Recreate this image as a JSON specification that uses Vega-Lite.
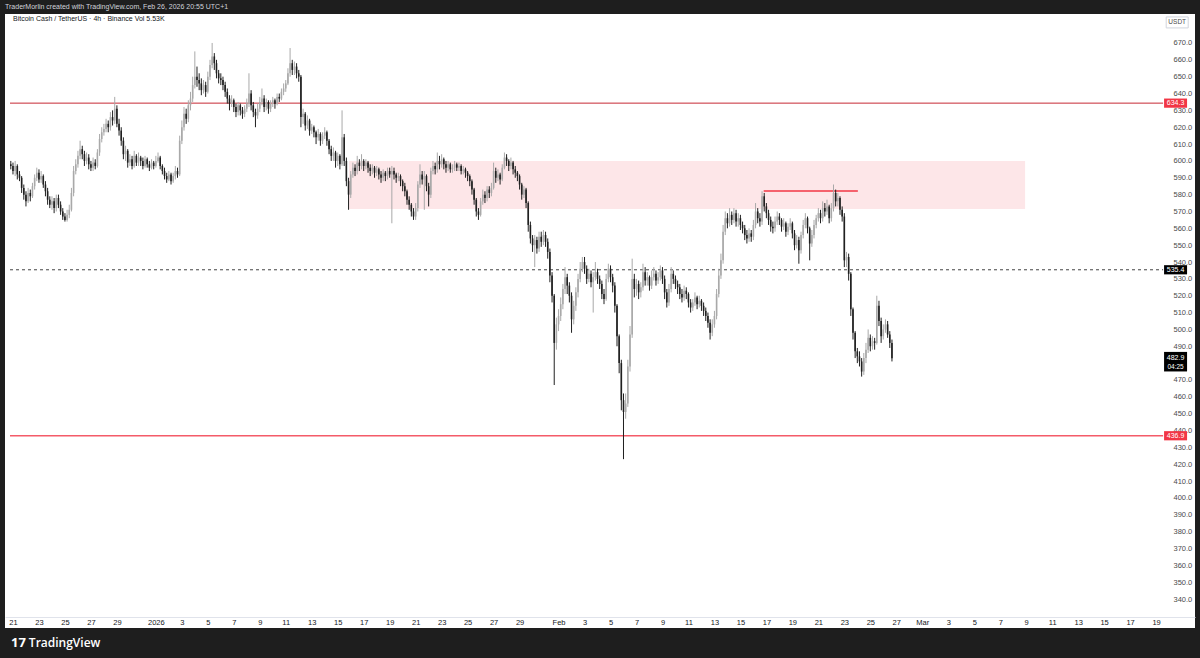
{
"$schema":"https://vega.github.io/schema/vega-lite/v6.json",
"width":1190,"height":614,
"autosize":{"type":"none"},
"padding":{"left":5,"top":14,"right":5,"bottom":30},
"background":"#1e1e1e",
"title":{"text":"TraderMorlin created with TradingView.com, Feb 26, 2026 20:55 UTC+1","anchor":"start","frame":"group","fontSize":7,"fontWeight":"normal","color":"#d1d4dc","offset":4,"font":"Liberation Sans"},
"config":{"view":{"stroke":null,"fill":"#ffffff"},"font":"Liberation Sans","axis":{"labelOverlap":false}},
"datasets":{"candles":[
{"t":"2025-12-20T20:00","o":598,"h":600,"l":595,"c":597},
{"t":"2025-12-21T00:00","o":597,"h":599,"l":592,"c":594},{"t":"2025-12-21T04:00","o":594,"h":600,"l":591,"c":597},{"t":"2025-12-21T08:00","o":597,"h":598,"l":589,"c":592},{"t":"2025-12-21T12:00","o":592,"h":594,"l":588,"c":590},{"t":"2025-12-21T16:00","o":590,"h":591,"l":581,"c":584},{"t":"2025-12-21T20:00","o":584,"h":586,"l":577,"c":580},
{"t":"2025-12-22T00:00","o":580,"h":582,"l":573,"c":576},{"t":"2025-12-22T04:00","o":576,"h":584,"l":575,"c":581},{"t":"2025-12-22T08:00","o":581,"h":583,"l":576,"c":579},{"t":"2025-12-22T12:00","o":579,"h":587,"l":578,"c":585},{"t":"2025-12-22T16:00","o":585,"h":592,"l":583,"c":590},{"t":"2025-12-22T20:00","o":590,"h":596,"l":588,"c":593},
{"t":"2025-12-23T00:00","o":593,"h":595,"l":587,"c":589},{"t":"2025-12-23T04:00","o":589,"h":594,"l":587,"c":591},{"t":"2025-12-23T08:00","o":591,"h":592,"l":584,"c":586},{"t":"2025-12-23T12:00","o":586,"h":588,"l":579,"c":582},{"t":"2025-12-23T16:00","o":582,"h":584,"l":574,"c":577},{"t":"2025-12-23T20:00","o":577,"h":579,"l":572,"c":574},
{"t":"2025-12-24T00:00","o":574,"h":579,"l":571,"c":576},{"t":"2025-12-24T04:00","o":576,"h":578,"l":569,"c":572},{"t":"2025-12-24T08:00","o":572,"h":580,"l":570,"c":578},{"t":"2025-12-24T12:00","o":578,"h":580,"l":572,"c":574},{"t":"2025-12-24T16:00","o":574,"h":576,"l":568,"c":570},{"t":"2025-12-24T20:00","o":570,"h":572,"l":565,"c":567},
{"t":"2025-12-25T00:00","o":567,"h":569,"l":564,"c":565},{"t":"2025-12-25T04:00","o":565,"h":571,"l":564,"c":568},{"t":"2025-12-25T08:00","o":568,"h":574,"l":566,"c":571},{"t":"2025-12-25T12:00","o":571,"h":584,"l":570,"c":581},{"t":"2025-12-25T16:00","o":581,"h":597,"l":579,"c":594},{"t":"2025-12-25T20:00","o":594,"h":601,"l":592,"c":598},
{"t":"2025-12-26T00:00","o":598,"h":606,"l":596,"c":603},{"t":"2025-12-26T04:00","o":603,"h":612,"l":601,"c":607},{"t":"2025-12-26T08:00","o":607,"h":609,"l":601,"c":604},{"t":"2025-12-26T12:00","o":604,"h":606,"l":597,"c":600},{"t":"2025-12-26T16:00","o":600,"h":605,"l":598,"c":602},{"t":"2025-12-26T20:00","o":602,"h":604,"l":595,"c":598},
{"t":"2025-12-27T00:00","o":598,"h":600,"l":594,"c":596},{"t":"2025-12-27T04:00","o":596,"h":602,"l":594,"c":599},{"t":"2025-12-27T08:00","o":599,"h":601,"l":595,"c":597},{"t":"2025-12-27T12:00","o":597,"h":607,"l":596,"c":605},{"t":"2025-12-27T16:00","o":605,"h":616,"l":603,"c":613},{"t":"2025-12-27T20:00","o":613,"h":620,"l":611,"c":617},
{"t":"2025-12-28T00:00","o":617,"h":622,"l":615,"c":619},{"t":"2025-12-28T04:00","o":619,"h":625,"l":617,"c":622},{"t":"2025-12-28T08:00","o":622,"h":624,"l":617,"c":620},{"t":"2025-12-28T12:00","o":620,"h":629,"l":618,"c":626},{"t":"2025-12-28T16:00","o":626,"h":630,"l":621,"c":624},{"t":"2025-12-28T20:00","o":624,"h":638,"l":622,"c":631},
{"t":"2025-12-29T00:00","o":631,"h":633,"l":620,"c":622},{"t":"2025-12-29T04:00","o":622,"h":625,"l":615,"c":618},{"t":"2025-12-29T08:00","o":618,"h":620,"l":609,"c":612},{"t":"2025-12-29T12:00","o":612,"h":614,"l":601,"c":604},{"t":"2025-12-29T16:00","o":604,"h":609,"l":600,"c":606},{"t":"2025-12-29T20:00","o":606,"h":607,"l":596,"c":599},
{"t":"2025-12-30T00:00","o":599,"h":604,"l":597,"c":601},{"t":"2025-12-30T04:00","o":601,"h":603,"l":595,"c":597},{"t":"2025-12-30T08:00","o":597,"h":606,"l":596,"c":603},{"t":"2025-12-30T12:00","o":603,"h":604,"l":597,"c":599},{"t":"2025-12-30T16:00","o":599,"h":605,"l":597,"c":602},{"t":"2025-12-30T20:00","o":602,"h":603,"l":597,"c":600},
{"t":"2025-12-31T00:00","o":600,"h":602,"l":595,"c":597},{"t":"2025-12-31T04:00","o":597,"h":603,"l":596,"c":601},{"t":"2025-12-31T08:00","o":601,"h":602,"l":596,"c":598},{"t":"2025-12-31T12:00","o":598,"h":600,"l":594,"c":596},{"t":"2025-12-31T16:00","o":596,"h":601,"l":595,"c":599},{"t":"2025-12-31T20:00","o":599,"h":600,"l":595,"c":597},
{"t":"2026-01-01T00:00","o":597,"h":603,"l":596,"c":600},{"t":"2026-01-01T04:00","o":600,"h":605,"l":599,"c":602},{"t":"2026-01-01T08:00","o":602,"h":603,"l":595,"c":597},{"t":"2026-01-01T12:00","o":597,"h":598,"l":592,"c":594},{"t":"2026-01-01T16:00","o":594,"h":596,"l":589,"c":591},{"t":"2026-01-01T20:00","o":591,"h":593,"l":587,"c":589},
{"t":"2026-01-02T00:00","o":589,"h":594,"l":588,"c":592},{"t":"2026-01-02T04:00","o":592,"h":593,"l":586,"c":588},{"t":"2026-01-02T08:00","o":588,"h":593,"l":587,"c":591},{"t":"2026-01-02T12:00","o":591,"h":597,"l":589,"c":594},{"t":"2026-01-02T16:00","o":594,"h":596,"l":590,"c":592},{"t":"2026-01-02T20:00","o":592,"h":615,"l":591,"c":612},
{"t":"2026-01-03T00:00","o":612,"h":624,"l":610,"c":620},{"t":"2026-01-03T04:00","o":620,"h":632,"l":618,"c":628},{"t":"2026-01-03T08:00","o":628,"h":631,"l":622,"c":625},{"t":"2026-01-03T12:00","o":625,"h":636,"l":623,"c":633},{"t":"2026-01-03T16:00","o":633,"h":641,"l":630,"c":637},{"t":"2026-01-03T20:00","o":637,"h":650,"l":635,"c":645},
{"t":"2026-01-04T00:00","o":645,"h":665,"l":643,"c":650},{"t":"2026-01-04T04:00","o":650,"h":656,"l":644,"c":648},{"t":"2026-01-04T08:00","o":648,"h":652,"l":642,"c":646},{"t":"2026-01-04T12:00","o":646,"h":649,"l":639,"c":642},{"t":"2026-01-04T16:00","o":642,"h":648,"l":640,"c":645},{"t":"2026-01-04T20:00","o":645,"h":647,"l":638,"c":641},
{"t":"2026-01-05T00:00","o":641,"h":653,"l":640,"c":650},{"t":"2026-01-05T04:00","o":650,"h":660,"l":648,"c":657},{"t":"2026-01-05T08:00","o":657,"h":670,"l":655,"c":662},{"t":"2026-01-05T12:00","o":662,"h":664,"l":654,"c":658},{"t":"2026-01-05T16:00","o":658,"h":660,"l":649,"c":652},{"t":"2026-01-05T20:00","o":652,"h":654,"l":646,"c":649},
{"t":"2026-01-06T00:00","o":649,"h":652,"l":645,"c":648},{"t":"2026-01-06T04:00","o":648,"h":650,"l":642,"c":645},{"t":"2026-01-06T08:00","o":645,"h":647,"l":638,"c":641},{"t":"2026-01-06T12:00","o":641,"h":643,"l":634,"c":637},{"t":"2026-01-06T16:00","o":637,"h":639,"l":630,"c":634},{"t":"2026-01-06T20:00","o":634,"h":639,"l":632,"c":636},
{"t":"2026-01-07T00:00","o":636,"h":637,"l":629,"c":632},{"t":"2026-01-07T04:00","o":632,"h":634,"l":626,"c":629},{"t":"2026-01-07T08:00","o":629,"h":635,"l":627,"c":633},{"t":"2026-01-07T12:00","o":633,"h":634,"l":627,"c":630},{"t":"2026-01-07T16:00","o":630,"h":632,"l":625,"c":628},{"t":"2026-01-07T20:00","o":628,"h":633,"l":626,"c":631},
{"t":"2026-01-08T00:00","o":631,"h":637,"l":629,"c":634},{"t":"2026-01-08T04:00","o":634,"h":652,"l":632,"c":640},{"t":"2026-01-08T08:00","o":640,"h":642,"l":630,"c":633},{"t":"2026-01-08T12:00","o":633,"h":635,"l":626,"c":629},{"t":"2026-01-08T16:00","o":629,"h":631,"l":620,"c":627},{"t":"2026-01-08T20:00","o":627,"h":634,"l":625,"c":631},
{"t":"2026-01-09T00:00","o":631,"h":638,"l":629,"c":635},{"t":"2026-01-09T04:00","o":635,"h":643,"l":633,"c":637},{"t":"2026-01-09T08:00","o":637,"h":639,"l":629,"c":632},{"t":"2026-01-09T12:00","o":632,"h":637,"l":630,"c":635},{"t":"2026-01-09T16:00","o":635,"h":636,"l":628,"c":631},{"t":"2026-01-09T20:00","o":631,"h":636,"l":629,"c":634},
{"t":"2026-01-10T00:00","o":634,"h":638,"l":632,"c":636},{"t":"2026-01-10T04:00","o":636,"h":637,"l":631,"c":634},{"t":"2026-01-10T08:00","o":634,"h":640,"l":633,"c":638},{"t":"2026-01-10T12:00","o":638,"h":640,"l":635,"c":637},{"t":"2026-01-10T16:00","o":637,"h":643,"l":636,"c":641},{"t":"2026-01-10T20:00","o":641,"h":646,"l":639,"c":643},
{"t":"2026-01-11T00:00","o":643,"h":648,"l":641,"c":646},{"t":"2026-01-11T04:00","o":646,"h":655,"l":645,"c":652},{"t":"2026-01-11T08:00","o":652,"h":667,"l":650,"c":658},{"t":"2026-01-11T12:00","o":658,"h":660,"l":651,"c":654},{"t":"2026-01-11T16:00","o":654,"h":659,"l":651,"c":656},{"t":"2026-01-11T20:00","o":656,"h":658,"l":649,"c":652},
{"t":"2026-01-12T00:00","o":652,"h":654,"l":647,"c":650},{"t":"2026-01-12T04:00","o":650,"h":651,"l":620,"c":626},{"t":"2026-01-12T08:00","o":626,"h":631,"l":622,"c":628},{"t":"2026-01-12T12:00","o":628,"h":629,"l":618,"c":621},{"t":"2026-01-12T16:00","o":621,"h":627,"l":619,"c":624},{"t":"2026-01-12T20:00","o":624,"h":625,"l":615,"c":618},
{"t":"2026-01-13T00:00","o":618,"h":622,"l":616,"c":620},{"t":"2026-01-13T04:00","o":620,"h":621,"l":614,"c":617},{"t":"2026-01-13T08:00","o":617,"h":618,"l":610,"c":614},{"t":"2026-01-13T12:00","o":614,"h":619,"l":612,"c":616},{"t":"2026-01-13T16:00","o":616,"h":617,"l":609,"c":612},{"t":"2026-01-13T20:00","o":612,"h":617,"l":610,"c":615},
{"t":"2026-01-14T00:00","o":615,"h":620,"l":613,"c":617},{"t":"2026-01-14T04:00","o":617,"h":618,"l":609,"c":612},{"t":"2026-01-14T08:00","o":612,"h":613,"l":604,"c":607},{"t":"2026-01-14T12:00","o":607,"h":609,"l":600,"c":603},{"t":"2026-01-14T16:00","o":603,"h":608,"l":600,"c":605},{"t":"2026-01-14T20:00","o":605,"h":606,"l":596,"c":600},
{"t":"2026-01-15T00:00","o":600,"h":605,"l":597,"c":603},{"t":"2026-01-15T04:00","o":603,"h":604,"l":595,"c":598},{"t":"2026-01-15T08:00","o":598,"h":630,"l":597,"c":614},{"t":"2026-01-15T12:00","o":614,"h":616,"l":597,"c":600},{"t":"2026-01-15T16:00","o":600,"h":602,"l":585,"c":588},{"t":"2026-01-15T20:00","o":588,"h":590,"l":571,"c":580},
{"t":"2026-01-16T00:00","o":580,"h":594,"l":578,"c":592},{"t":"2026-01-16T04:00","o":592,"h":599,"l":590,"c":596},{"t":"2026-01-16T08:00","o":596,"h":598,"l":591,"c":594},{"t":"2026-01-16T12:00","o":594,"h":603,"l":592,"c":599},{"t":"2026-01-16T16:00","o":599,"h":601,"l":594,"c":597},{"t":"2026-01-16T20:00","o":597,"h":604,"l":595,"c":600},
{"t":"2026-01-17T00:00","o":600,"h":601,"l":594,"c":597},{"t":"2026-01-17T04:00","o":597,"h":601,"l":595,"c":599},{"t":"2026-01-17T08:00","o":599,"h":600,"l":593,"c":596},{"t":"2026-01-17T12:00","o":596,"h":598,"l":591,"c":594},{"t":"2026-01-17T16:00","o":594,"h":598,"l":592,"c":596},{"t":"2026-01-17T20:00","o":596,"h":597,"l":590,"c":593},
{"t":"2026-01-18T00:00","o":593,"h":597,"l":591,"c":595},{"t":"2026-01-18T04:00","o":595,"h":596,"l":589,"c":592},{"t":"2026-01-18T08:00","o":592,"h":594,"l":587,"c":590},{"t":"2026-01-18T12:00","o":590,"h":595,"l":588,"c":593},{"t":"2026-01-18T16:00","o":593,"h":594,"l":588,"c":591},{"t":"2026-01-18T20:00","o":591,"h":596,"l":589,"c":594},
{"t":"2026-01-19T00:00","o":594,"h":596,"l":590,"c":592},{"t":"2026-01-19T04:00","o":592,"h":597,"l":563,"c":594},{"t":"2026-01-19T08:00","o":594,"h":596,"l":589,"c":592},{"t":"2026-01-19T12:00","o":592,"h":593,"l":587,"c":590},{"t":"2026-01-19T16:00","o":590,"h":593,"l":588,"c":591},{"t":"2026-01-19T20:00","o":591,"h":592,"l":585,"c":588},
{"t":"2026-01-20T00:00","o":588,"h":589,"l":582,"c":585},{"t":"2026-01-20T04:00","o":585,"h":587,"l":579,"c":582},{"t":"2026-01-20T08:00","o":582,"h":583,"l":574,"c":577},{"t":"2026-01-20T12:00","o":577,"h":579,"l":571,"c":574},{"t":"2026-01-20T16:00","o":574,"h":575,"l":567,"c":570},{"t":"2026-01-20T20:00","o":570,"h":572,"l":565,"c":567},
{"t":"2026-01-21T00:00","o":567,"h":575,"l":565,"c":572},{"t":"2026-01-21T04:00","o":572,"h":588,"l":570,"c":586},{"t":"2026-01-21T08:00","o":586,"h":598,"l":584,"c":592},{"t":"2026-01-21T12:00","o":592,"h":594,"l":586,"c":589},{"t":"2026-01-21T16:00","o":589,"h":594,"l":571,"c":591},{"t":"2026-01-21T20:00","o":591,"h":592,"l":582,"c":585},
{"t":"2026-01-22T00:00","o":585,"h":587,"l":573,"c":580},{"t":"2026-01-22T04:00","o":580,"h":596,"l":578,"c":594},{"t":"2026-01-22T08:00","o":594,"h":600,"l":592,"c":597},{"t":"2026-01-22T12:00","o":597,"h":599,"l":592,"c":595},{"t":"2026-01-22T16:00","o":595,"h":605,"l":593,"c":600},{"t":"2026-01-22T20:00","o":600,"h":603,"l":595,"c":598},
{"t":"2026-01-23T00:00","o":598,"h":604,"l":596,"c":601},{"t":"2026-01-23T04:00","o":601,"h":602,"l":595,"c":598},{"t":"2026-01-23T08:00","o":598,"h":600,"l":593,"c":596},{"t":"2026-01-23T12:00","o":596,"h":600,"l":594,"c":598},{"t":"2026-01-23T16:00","o":598,"h":599,"l":593,"c":595},{"t":"2026-01-23T20:00","o":595,"h":598,"l":593,"c":596},
{"t":"2026-01-24T00:00","o":596,"h":600,"l":594,"c":598},{"t":"2026-01-24T04:00","o":598,"h":599,"l":594,"c":596},{"t":"2026-01-24T08:00","o":596,"h":599,"l":594,"c":597},{"t":"2026-01-24T12:00","o":597,"h":598,"l":592,"c":594},{"t":"2026-01-24T16:00","o":594,"h":597,"l":592,"c":595},{"t":"2026-01-24T20:00","o":595,"h":596,"l":590,"c":593},
{"t":"2026-01-25T00:00","o":593,"h":594,"l":588,"c":591},{"t":"2026-01-25T04:00","o":591,"h":592,"l":585,"c":588},{"t":"2026-01-25T08:00","o":588,"h":589,"l":580,"c":583},{"t":"2026-01-25T12:00","o":583,"h":584,"l":574,"c":577},{"t":"2026-01-25T16:00","o":577,"h":578,"l":567,"c":570},{"t":"2026-01-25T20:00","o":570,"h":572,"l":565,"c":568},
{"t":"2026-01-26T00:00","o":568,"h":578,"l":567,"c":576},{"t":"2026-01-26T04:00","o":576,"h":583,"l":574,"c":580},{"t":"2026-01-26T08:00","o":580,"h":582,"l":575,"c":578},{"t":"2026-01-26T12:00","o":578,"h":585,"l":576,"c":583},{"t":"2026-01-26T16:00","o":583,"h":585,"l":578,"c":581},{"t":"2026-01-26T20:00","o":581,"h":587,"l":579,"c":584},
{"t":"2026-01-27T00:00","o":584,"h":599,"l":583,"c":594},{"t":"2026-01-27T04:00","o":594,"h":596,"l":587,"c":590},{"t":"2026-01-27T08:00","o":590,"h":595,"l":588,"c":592},{"t":"2026-01-27T12:00","o":592,"h":593,"l":586,"c":589},{"t":"2026-01-27T16:00","o":589,"h":598,"l":588,"c":596},{"t":"2026-01-27T20:00","o":596,"h":605,"l":595,"c":602},
{"t":"2026-01-28T00:00","o":602,"h":604,"l":597,"c":600},{"t":"2026-01-28T04:00","o":600,"h":601,"l":594,"c":597},{"t":"2026-01-28T08:00","o":597,"h":602,"l":595,"c":599},{"t":"2026-01-28T12:00","o":599,"h":600,"l":592,"c":595},{"t":"2026-01-28T16:00","o":595,"h":597,"l":590,"c":593},{"t":"2026-01-28T20:00","o":593,"h":594,"l":588,"c":591},
{"t":"2026-01-29T00:00","o":591,"h":592,"l":583,"c":586},{"t":"2026-01-29T04:00","o":586,"h":587,"l":577,"c":580},{"t":"2026-01-29T08:00","o":580,"h":585,"l":578,"c":583},{"t":"2026-01-29T12:00","o":583,"h":584,"l":572,"c":575},{"t":"2026-01-29T16:00","o":575,"h":576,"l":558,"c":562},{"t":"2026-01-29T20:00","o":562,"h":564,"l":551,"c":554},
{"t":"2026-01-30T00:00","o":554,"h":556,"l":546,"c":550},{"t":"2026-01-30T04:00","o":550,"h":556,"l":537,"c":553},{"t":"2026-01-30T08:00","o":553,"h":555,"l":545,"c":548},{"t":"2026-01-30T12:00","o":548,"h":558,"l":546,"c":555},{"t":"2026-01-30T16:00","o":555,"h":558,"l":549,"c":552},{"t":"2026-01-30T20:00","o":552,"h":559,"l":550,"c":556},
{"t":"2026-01-31T00:00","o":556,"h":558,"l":549,"c":552},{"t":"2026-01-31T04:00","o":552,"h":554,"l":542,"c":546},{"t":"2026-01-31T08:00","o":546,"h":548,"l":528,"c":532},{"t":"2026-01-31T12:00","o":532,"h":534,"l":516,"c":520},{"t":"2026-01-31T16:00","o":520,"h":521,"l":467,"c":492},{"t":"2026-01-31T20:00","o":492,"h":507,"l":488,"c":503},
{"t":"2026-02-01T00:00","o":503,"h":512,"l":499,"c":508},{"t":"2026-02-01T04:00","o":508,"h":519,"l":505,"c":515},{"t":"2026-02-01T08:00","o":515,"h":527,"l":512,"c":524},{"t":"2026-02-01T12:00","o":524,"h":537,"l":521,"c":531},{"t":"2026-02-01T16:00","o":531,"h":533,"l":521,"c":526},{"t":"2026-02-01T20:00","o":526,"h":528,"l":516,"c":520},
{"t":"2026-02-02T00:00","o":520,"h":522,"l":498,"c":506},{"t":"2026-02-02T04:00","o":506,"h":517,"l":503,"c":514},{"t":"2026-02-02T08:00","o":514,"h":525,"l":511,"c":522},{"t":"2026-02-02T12:00","o":522,"h":533,"l":519,"c":530},{"t":"2026-02-02T16:00","o":530,"h":540,"l":528,"c":536},{"t":"2026-02-02T20:00","o":536,"h":543,"l":534,"c":540},
{"t":"2026-02-03T00:00","o":540,"h":543,"l":533,"c":536},{"t":"2026-02-03T04:00","o":536,"h":538,"l":527,"c":530},{"t":"2026-02-03T08:00","o":530,"h":536,"l":528,"c":533},{"t":"2026-02-03T12:00","o":533,"h":535,"l":525,"c":528},{"t":"2026-02-03T16:00","o":528,"h":534,"l":510,"c":531},{"t":"2026-02-03T20:00","o":531,"h":540,"l":529,"c":534},
{"t":"2026-02-04T00:00","o":534,"h":536,"l":527,"c":530},{"t":"2026-02-04T04:00","o":530,"h":532,"l":524,"c":527},{"t":"2026-02-04T08:00","o":527,"h":529,"l":518,"c":521},{"t":"2026-02-04T12:00","o":521,"h":524,"l":515,"c":518},{"t":"2026-02-04T16:00","o":518,"h":533,"l":517,"c":530},{"t":"2026-02-04T20:00","o":530,"h":539,"l":528,"c":536},
{"t":"2026-02-05T00:00","o":536,"h":538,"l":528,"c":531},{"t":"2026-02-05T04:00","o":531,"h":533,"l":522,"c":526},{"t":"2026-02-05T08:00","o":526,"h":528,"l":510,"c":514},{"t":"2026-02-05T12:00","o":514,"h":515,"l":490,"c":496},{"t":"2026-02-05T16:00","o":496,"h":497,"l":474,"c":480},{"t":"2026-02-05T20:00","o":480,"h":482,"l":452,"c":458},
{"t":"2026-02-06T00:00","o":458,"h":462,"l":423,"c":451},{"t":"2026-02-06T04:00","o":451,"h":462,"l":447,"c":456},{"t":"2026-02-06T08:00","o":456,"h":482,"l":454,"c":478},{"t":"2026-02-06T12:00","o":478,"h":502,"l":475,"c":497},{"t":"2026-02-06T16:00","o":497,"h":542,"l":495,"c":530},{"t":"2026-02-06T20:00","o":530,"h":533,"l":519,"c":524},
{"t":"2026-02-07T00:00","o":524,"h":530,"l":520,"c":527},{"t":"2026-02-07T04:00","o":527,"h":529,"l":518,"c":522},{"t":"2026-02-07T08:00","o":522,"h":528,"l":519,"c":525},{"t":"2026-02-07T12:00","o":525,"h":539,"l":523,"c":534},{"t":"2026-02-07T16:00","o":534,"h":537,"l":526,"c":529},{"t":"2026-02-07T20:00","o":529,"h":534,"l":526,"c":531},
{"t":"2026-02-08T00:00","o":531,"h":532,"l":523,"c":526},{"t":"2026-02-08T04:00","o":526,"h":535,"l":524,"c":531},{"t":"2026-02-08T08:00","o":531,"h":537,"l":529,"c":533},{"t":"2026-02-08T12:00","o":533,"h":535,"l":526,"c":529},{"t":"2026-02-08T16:00","o":529,"h":534,"l":527,"c":531},{"t":"2026-02-08T20:00","o":531,"h":538,"l":529,"c":535},
{"t":"2026-02-09T00:00","o":535,"h":537,"l":527,"c":530},{"t":"2026-02-09T04:00","o":530,"h":532,"l":518,"c":522},{"t":"2026-02-09T08:00","o":522,"h":524,"l":513,"c":516},{"t":"2026-02-09T12:00","o":516,"h":527,"l":514,"c":524},{"t":"2026-02-09T16:00","o":524,"h":537,"l":522,"c":533},{"t":"2026-02-09T20:00","o":533,"h":535,"l":527,"c":530},
{"t":"2026-02-10T00:00","o":530,"h":532,"l":524,"c":527},{"t":"2026-02-10T04:00","o":527,"h":529,"l":521,"c":525},{"t":"2026-02-10T08:00","o":525,"h":527,"l":518,"c":521},{"t":"2026-02-10T12:00","o":521,"h":524,"l":516,"c":519},{"t":"2026-02-10T16:00","o":519,"h":526,"l":517,"c":523},{"t":"2026-02-10T20:00","o":523,"h":525,"l":518,"c":521},
{"t":"2026-02-11T00:00","o":521,"h":522,"l":513,"c":516},{"t":"2026-02-11T04:00","o":516,"h":518,"l":510,"c":513},{"t":"2026-02-11T08:00","o":513,"h":518,"l":511,"c":516},{"t":"2026-02-11T12:00","o":516,"h":522,"l":514,"c":519},{"t":"2026-02-11T16:00","o":519,"h":520,"l":512,"c":515},{"t":"2026-02-11T20:00","o":515,"h":520,"l":513,"c":517},
{"t":"2026-02-12T00:00","o":517,"h":518,"l":511,"c":514},{"t":"2026-02-12T04:00","o":514,"h":516,"l":508,"c":511},{"t":"2026-02-12T08:00","o":511,"h":513,"l":505,"c":508},{"t":"2026-02-12T12:00","o":508,"h":510,"l":501,"c":504},{"t":"2026-02-12T16:00","o":504,"h":506,"l":494,"c":498},{"t":"2026-02-12T20:00","o":498,"h":506,"l":496,"c":503},
{"t":"2026-02-13T00:00","o":503,"h":511,"l":501,"c":508},{"t":"2026-02-13T04:00","o":508,"h":524,"l":506,"c":521},{"t":"2026-02-13T08:00","o":521,"h":536,"l":519,"c":532},{"t":"2026-02-13T12:00","o":532,"h":545,"l":530,"c":541},{"t":"2026-02-13T16:00","o":541,"h":562,"l":539,"c":558},{"t":"2026-02-13T20:00","o":558,"h":570,"l":556,"c":566},
{"t":"2026-02-14T00:00","o":566,"h":569,"l":560,"c":563},{"t":"2026-02-14T04:00","o":563,"h":572,"l":561,"c":568},{"t":"2026-02-14T08:00","o":568,"h":570,"l":562,"c":565},{"t":"2026-02-14T12:00","o":565,"h":572,"l":563,"c":569},{"t":"2026-02-14T16:00","o":569,"h":571,"l":561,"c":564},{"t":"2026-02-14T20:00","o":564,"h":569,"l":561,"c":566},
{"t":"2026-02-15T00:00","o":566,"h":568,"l":559,"c":562},{"t":"2026-02-15T04:00","o":562,"h":564,"l":557,"c":560},{"t":"2026-02-15T08:00","o":560,"h":562,"l":553,"c":556},{"t":"2026-02-15T12:00","o":556,"h":559,"l":551,"c":554},{"t":"2026-02-15T16:00","o":554,"h":560,"l":552,"c":557},{"t":"2026-02-15T20:00","o":557,"h":559,"l":552,"c":555},
{"t":"2026-02-16T00:00","o":555,"h":565,"l":553,"c":562},{"t":"2026-02-16T04:00","o":562,"h":575,"l":560,"c":570},{"t":"2026-02-16T08:00","o":570,"h":572,"l":563,"c":566},{"t":"2026-02-16T12:00","o":566,"h":569,"l":561,"c":564},{"t":"2026-02-16T16:00","o":564,"h":582,"l":562,"c":579},{"t":"2026-02-16T20:00","o":579,"h":581,"l":570,"c":573},
{"t":"2026-02-17T00:00","o":573,"h":575,"l":566,"c":569},{"t":"2026-02-17T04:00","o":569,"h":571,"l":562,"c":565},{"t":"2026-02-17T08:00","o":565,"h":567,"l":558,"c":561},{"t":"2026-02-17T12:00","o":561,"h":564,"l":557,"c":560},{"t":"2026-02-17T16:00","o":560,"h":567,"l":558,"c":564},{"t":"2026-02-17T20:00","o":564,"h":570,"l":562,"c":567},
{"t":"2026-02-18T00:00","o":567,"h":569,"l":562,"c":565},{"t":"2026-02-18T04:00","o":565,"h":566,"l":558,"c":561},{"t":"2026-02-18T08:00","o":561,"h":566,"l":559,"c":563},{"t":"2026-02-18T12:00","o":563,"h":564,"l":555,"c":558},{"t":"2026-02-18T16:00","o":558,"h":563,"l":556,"c":561},{"t":"2026-02-18T20:00","o":561,"h":566,"l":559,"c":563},
{"t":"2026-02-19T00:00","o":563,"h":564,"l":554,"c":557},{"t":"2026-02-19T04:00","o":557,"h":559,"l":547,"c":550},{"t":"2026-02-19T08:00","o":550,"h":556,"l":548,"c":553},{"t":"2026-02-19T12:00","o":553,"h":555,"l":539,"c":547},{"t":"2026-02-19T16:00","o":547,"h":558,"l":545,"c":556},{"t":"2026-02-19T20:00","o":556,"h":565,"l":554,"c":562},
{"t":"2026-02-20T00:00","o":562,"h":569,"l":560,"c":566},{"t":"2026-02-20T04:00","o":566,"h":567,"l":557,"c":560},{"t":"2026-02-20T08:00","o":560,"h":561,"l":541,"c":551},{"t":"2026-02-20T12:00","o":551,"h":559,"l":549,"c":556},{"t":"2026-02-20T16:00","o":556,"h":565,"l":554,"c":562},{"t":"2026-02-20T20:00","o":562,"h":568,"l":560,"c":566},
{"t":"2026-02-21T00:00","o":566,"h":572,"l":564,"c":569},{"t":"2026-02-21T04:00","o":569,"h":571,"l":563,"c":566},{"t":"2026-02-21T08:00","o":566,"h":576,"l":564,"c":572},{"t":"2026-02-21T12:00","o":572,"h":575,"l":567,"c":570},{"t":"2026-02-21T16:00","o":570,"h":577,"l":568,"c":573},{"t":"2026-02-21T20:00","o":573,"h":574,"l":563,"c":566},
{"t":"2026-02-22T00:00","o":566,"h":575,"l":564,"c":572},{"t":"2026-02-22T04:00","o":572,"h":586,"l":570,"c":581},{"t":"2026-02-22T08:00","o":581,"h":583,"l":573,"c":576},{"t":"2026-02-22T12:00","o":576,"h":581,"l":573,"c":578},{"t":"2026-02-22T16:00","o":578,"h":579,"l":568,"c":571},{"t":"2026-02-22T20:00","o":571,"h":573,"l":564,"c":567},
{"t":"2026-02-23T00:00","o":567,"h":569,"l":537,"c":541},{"t":"2026-02-23T04:00","o":541,"h":546,"l":537,"c":543},{"t":"2026-02-23T08:00","o":543,"h":545,"l":529,"c":533},{"t":"2026-02-23T12:00","o":533,"h":534,"l":508,"c":512},{"t":"2026-02-23T16:00","o":512,"h":513,"l":494,"c":498},{"t":"2026-02-23T20:00","o":498,"h":499,"l":483,"c":487},
{"t":"2026-02-24T00:00","o":487,"h":489,"l":480,"c":484},{"t":"2026-02-24T04:00","o":484,"h":487,"l":478,"c":481},{"t":"2026-02-24T08:00","o":481,"h":483,"l":472,"c":475},{"t":"2026-02-24T12:00","o":475,"h":486,"l":473,"c":483},{"t":"2026-02-24T16:00","o":483,"h":492,"l":480,"c":488},{"t":"2026-02-24T20:00","o":488,"h":500,"l":486,"c":495},
{"t":"2026-02-25T00:00","o":495,"h":497,"l":487,"c":490},{"t":"2026-02-25T04:00","o":490,"h":496,"l":488,"c":493},{"t":"2026-02-25T08:00","o":493,"h":495,"l":488,"c":492},{"t":"2026-02-25T12:00","o":492,"h":520,"l":491,"c":514},{"t":"2026-02-25T16:00","o":514,"h":517,"l":502,"c":505},{"t":"2026-02-25T20:00","o":505,"h":507,"l":492,"c":496},
{"t":"2026-02-26T00:00","o":496,"h":503,"l":494,"c":500},{"t":"2026-02-26T04:00","o":500,"h":506,"l":498,"c":503},{"t":"2026-02-26T08:00","o":503,"h":505,"l":495,"c":497},{"t":"2026-02-26T12:00","o":497,"h":499,"l":489,"c":492},{"t":"2026-02-26T16:00","o":492,"h":494,"l":481,"c":482.9}
]},
"layer":[
{"data":{"values":[{"t1":"2026-01-15T21:00","t2":"2026-03-08T22:00","lo":571.5,"hi":600}]},
 "mark":{"type":"rect","fill":"#fde6e8"},
 "encoding":{
  "x":{"field":"t1","type":"temporal","scale":{"domain":[{"year":2025,"month":12,"date":20,"hours":18,"minutes":30},{"year":2026,"month":3,"date":21,"hours":14,"minutes":40}]},
   "axis":{"orient":"bottom","offset":-11,"title":null,"grid":false,"ticks":false,"tickSize":0,"domain":true,"domainColor":"#e0e3eb","domainWidth":1,"labelColor":"#131722","labelFontSize":7.5,"labelPadding":5,"labelBaseline":"middle","labelOverlap":false,"labelBound":false,"labelFlush":false,"tickCount":{"interval":"day","step":2},
    "labelExpr":"date(datum.value) == 31 || (month(datum.value) == 2 && date(datum.value) > 19) ? '' : date(datum.value) == 1 ? (month(datum.value) == 0 ? timeFormat(datum.value, '%Y') : timeFormat(datum.value, '%b')) : '' + date(datum.value)"}},
  "x2":{"field":"t2"},
  "y":{"field":"lo","type":"quantitative","scale":{"domain":[322.8,687.2],"zero":false,"nice":false},
   "axis":{"orient":"right","offset":-27,"title":null,"grid":false,"ticks":false,"tickSize":0,"domain":false,"labelColor":"#4a4a4a","labelFontSize":7.5,"labelPadding":5,"labelAlign":"left","labelOverlap":false,"labelBound":false,"labelFlush":false,"tickCount":60,"format":".1f","values":[340,350,360,370,380,390,400,410,420,430,440,450,460,470,490,500,510,520,530,540,550,560,570,580,590,600,610,620,630,640,650,660,670]}},
  "y2":{"field":"hi"}}},
{"data":{"values":[{"t1":"2025-12-20T18:30","t2":"2026-03-19T13:00","p":634.3}]},
 "mark":{"type":"rule","color":"#c62834","strokeWidth":1},
 "encoding":{"x":{"field":"t1","type":"temporal","scale":{"domain":[{"year":2025,"month":12,"date":20,"hours":18,"minutes":30},{"year":2026,"month":3,"date":21,"hours":14,"minutes":40}]}},"x2":{"field":"t2"},
  "y":{"field":"p","type":"quantitative","scale":{"domain":[322.8,687.2],"zero":false,"nice":false}}}},
{"data":{"values":[{"t1":"2025-12-20T18:30","t2":"2026-03-19T13:00","p":535.4}]},
 "mark":{"type":"rule","color":"#444444","strokeWidth":1,"strokeDash":[3,3]},
 "encoding":{"x":{"field":"t1","type":"temporal","scale":{"domain":[{"year":2025,"month":12,"date":20,"hours":18,"minutes":30},{"year":2026,"month":3,"date":21,"hours":14,"minutes":40}]}},"x2":{"field":"t2"},
  "y":{"field":"p","type":"quantitative","scale":{"domain":[322.8,687.2],"zero":false,"nice":false}}}},
{"data":{"values":[{"t1":"2025-12-20T18:30","t2":"2026-03-19T13:00","p":436.9}]},
 "mark":{"type":"rule","color":"#f45b69","strokeWidth":1.5},
 "encoding":{"x":{"field":"t1","type":"temporal","scale":{"domain":[{"year":2025,"month":12,"date":20,"hours":18,"minutes":30},{"year":2026,"month":3,"date":21,"hours":14,"minutes":40}]}},"x2":{"field":"t2"},
  "y":{"field":"p","type":"quantitative","scale":{"domain":[322.8,687.2],"zero":false,"nice":false}}}},
{"data":{"values":[{"t1":"2026-02-16T19:00","t2":"2026-02-24T01:00","p":582.2}]},
 "mark":{"type":"rule","color":"#f23645","strokeWidth":1.5},
 "encoding":{"x":{"field":"t1","type":"temporal","scale":{"domain":[{"year":2025,"month":12,"date":20,"hours":18,"minutes":30},{"year":2026,"month":3,"date":21,"hours":14,"minutes":40}]}},"x2":{"field":"t2"},
  "y":{"field":"p","type":"quantitative","scale":{"domain":[322.8,687.2],"zero":false,"nice":false}}}},
{"data":{"name":"candles"},
 "mark":{"type":"rule","strokeWidth":1},
 "encoding":{"x":{"field":"t","type":"temporal","scale":{"domain":[{"year":2025,"month":12,"date":20,"hours":18,"minutes":30},{"year":2026,"month":3,"date":21,"hours":14,"minutes":40}]}},
  "y":{"field":"l","type":"quantitative","scale":{"domain":[322.8,687.2],"zero":false,"nice":false}},"y2":{"field":"h"},
  "color":{"condition":{"test":"datum.c >= datum.o","value":"#a9a9a9"},"value":"#202020"}}},
{"data":{"name":"candles"},
 "mark":{"type":"bar","size":1.6},
 "encoding":{"x":{"field":"t","type":"temporal","scale":{"domain":[{"year":2025,"month":12,"date":20,"hours":18,"minutes":30},{"year":2026,"month":3,"date":21,"hours":14,"minutes":40}]}},
  "y":{"field":"o","type":"quantitative","scale":{"domain":[322.8,687.2],"zero":false,"nice":false}},"y2":{"field":"c"},
  "color":{"condition":{"test":"datum.c >= datum.o","value":"#a9a9a9"},"value":"#202020"}}},
{"data":{"values":[{"p":634.3},{"p":436.9}]},
 "mark":{"type":"point","shape":"M-1,-0.4H1V0.4H-1Z","size":529,"filled":true,"fill":"#f23645","opacity":1,"strokeWidth":0},
 "encoding":{"x":{"datum":{"year":2026,"month":3,"date":20,"hours":12},"type":"temporal","scale":{"domain":[{"year":2025,"month":12,"date":20,"hours":18,"minutes":30},{"year":2026,"month":3,"date":21,"hours":14,"minutes":40}]}},
  "y":{"field":"p","type":"quantitative","scale":{"domain":[322.8,687.2],"zero":false,"nice":false}}}},
{"data":{"values":[{"p":535.4}]},
 "mark":{"type":"point","shape":"M-1,-0.4H1V0.4H-1Z","size":529,"filled":true,"fill":"#000000","opacity":1,"strokeWidth":0},
 "encoding":{"x":{"datum":{"year":2026,"month":3,"date":20,"hours":12},"type":"temporal","scale":{"domain":[{"year":2025,"month":12,"date":20,"hours":18,"minutes":30},{"year":2026,"month":3,"date":21,"hours":14,"minutes":40}]}},
  "y":{"field":"p","type":"quantitative","scale":{"domain":[322.8,687.2],"zero":false,"nice":false}}}},
{"data":{"values":[{"p":482.9}]},
 "mark":{"type":"point","shape":"M-1,-0.55H1V1.15H-1Z","size":529,"filled":true,"fill":"#000000","opacity":1,"strokeWidth":0},
 "encoding":{"x":{"datum":{"year":2026,"month":3,"date":20,"hours":12},"type":"temporal","scale":{"domain":[{"year":2025,"month":12,"date":20,"hours":18,"minutes":30},{"year":2026,"month":3,"date":21,"hours":14,"minutes":40}]}},
  "y":{"field":"p","type":"quantitative","scale":{"domain":[322.8,687.2],"zero":false,"nice":false}}}},
{"data":{"values":[{"p":634.3},{"p":535.4},{"p":482.9},{"p":436.9}]},
 "mark":{"type":"text","color":"#ffffff","fontSize":7,"baseline":"middle","align":"center"},
 "encoding":{"x":{"datum":{"year":2026,"month":3,"date":20,"hours":12},"type":"temporal","scale":{"domain":[{"year":2025,"month":12,"date":20,"hours":18,"minutes":30},{"year":2026,"month":3,"date":21,"hours":14,"minutes":40}]}},
  "y":{"field":"p","type":"quantitative","scale":{"domain":[322.8,687.2],"zero":false,"nice":false}},
  "text":{"field":"p","type":"quantitative","format":".1f"}}},
{"data":{"values":[{}]},
 "mark":{"type":"text","color":"#ffffff","fontSize":6.5,"baseline":"middle","align":"center","text":"04:25"},
 "encoding":{"x":{"datum":{"year":2026,"month":3,"date":20,"hours":12},"type":"temporal","scale":{"domain":[{"year":2025,"month":12,"date":20,"hours":18,"minutes":30},{"year":2026,"month":3,"date":21,"hours":14,"minutes":40}]}},
  "y":{"datum":477.7,"type":"quantitative","scale":{"domain":[322.8,687.2],"zero":false,"nice":false}}}},
{"data":{"values":[{}]},
 "mark":{"type":"point","shape":"M-1,-0.5H1V0.5H-1Z","size":484,"filled":false,"fill":"#ffffff","stroke":"#d1d4dc","strokeWidth":1,"opacity":1},
 "encoding":{"x":{"datum":{"year":2026,"month":3,"date":20,"hours":15},"type":"temporal","scale":{"domain":[{"year":2025,"month":12,"date":20,"hours":18,"minutes":30},{"year":2026,"month":3,"date":21,"hours":14,"minutes":40}]}},
  "y":{"datum":682.2,"type":"quantitative","scale":{"domain":[322.8,687.2],"zero":false,"nice":false}}}},
{"data":{"values":[{}]},
 "mark":{"type":"text","color":"#4a4a4a","fontSize":6.5,"baseline":"middle","align":"center","text":"USDT"},
 "encoding":{"x":{"datum":{"year":2026,"month":3,"date":20,"hours":15},"type":"temporal","scale":{"domain":[{"year":2025,"month":12,"date":20,"hours":18,"minutes":30},{"year":2026,"month":3,"date":21,"hours":14,"minutes":40}]}},
  "y":{"datum":682.2,"type":"quantitative","scale":{"domain":[322.8,687.2],"zero":false,"nice":false}}}},
{"data":{"values":[{}]},
 "mark":{"type":"text","color":"#131722","fontSize":7,"baseline":"middle","align":"left","text":"Bitcoin Cash / TetherUS · 4h · Binance  Vol 5.53K"},
 "encoding":{"x":{"datum":{"year":2025,"month":12,"date":21},"type":"temporal","scale":{"domain":[{"year":2025,"month":12,"date":20,"hours":18,"minutes":30},{"year":2026,"month":3,"date":21,"hours":14,"minutes":40}]}},
  "y":{"datum":684.2,"type":"quantitative","scale":{"domain":[322.8,687.2],"zero":false,"nice":false}}}},
{"data":{"values":[{}]},
 "mark":{"type":"text","color":"#ffffff","fontSize":13,"fontWeight":"bold","baseline":"middle","align":"left","text":"17","font":"Open Sans"},
 "encoding":{"x":{"datum":{"year":2025,"month":12,"date":20,"hours":20,"minutes":20},"type":"temporal","scale":{"domain":[{"year":2025,"month":12,"date":20,"hours":18,"minutes":30},{"year":2026,"month":3,"date":21,"hours":14,"minutes":40}]}},
  "y":{"datum":313.9,"type":"quantitative","scale":{"domain":[322.8,687.2],"zero":false,"nice":false}}}},
{"data":{"values":[{}]},
 "mark":{"type":"text","color":"#ffffff","fontSize":12,"fontWeight":600,"baseline":"middle","align":"left","text":"TradingView","font":"Open Sans"},
 "encoding":{"x":{"datum":{"year":2025,"month":12,"date":22,"hours":5,"minutes":20},"type":"temporal","scale":{"domain":[{"year":2025,"month":12,"date":20,"hours":18,"minutes":30},{"year":2026,"month":3,"date":21,"hours":14,"minutes":40}]}},
  "y":{"datum":313.9,"type":"quantitative","scale":{"domain":[322.8,687.2],"zero":false,"nice":false}}}}
]
}
